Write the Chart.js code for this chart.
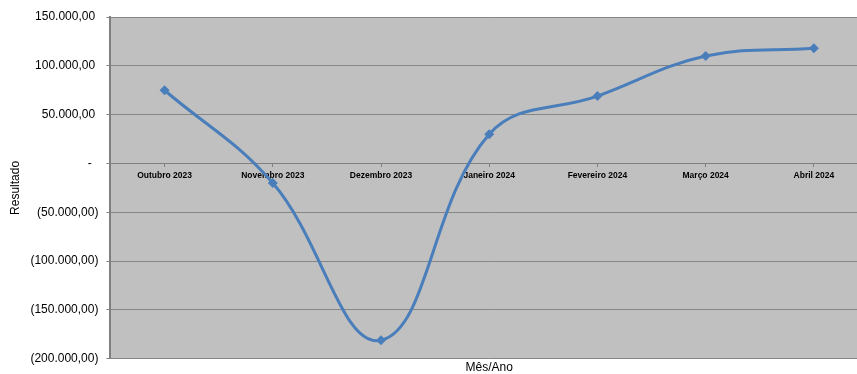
<!DOCTYPE html>
<html>
<head>
<meta charset="utf-8">
<script src="https://cdn.jsdelivr.net/npm/chart.js@4/dist/chart.umd.min.js"></script>
<style>
  html, body { margin: 0; padding: 0; background: #ffffff; overflow: hidden; }
  body { width: 857px; height: 374px; }
  #wrap { width: 873px; height: 374px; position: relative; }
</style>
</head>
<body>
<div id="wrap"><canvas id="c"></canvas></div>
<script>
// Monthly result, October 2023 to April 2024
const months = ['Outubro 2023', 'Novembro 2023', 'Dezembro 2023', 'Janeiro 2024',
                'Fevereiro 2024', 'Março 2024', 'Abril 2024'];
const resultado = [75000, -20000, -181000, 30000, 69000, 110000, 118000];
const yTicks = [150000, 100000, 50000, 0, -50000, -100000, -150000, -200000];

// Accounting-style number: 150.000,00 / (50.000,00) / -
function fmt(v) {
  if (v === 0) return '-  ';
  const s = Math.abs(v).toLocaleString('de-DE', { minimumFractionDigits: 2, maximumFractionDigits: 2 });
  return v < 0 ? '(' + s + ')' : s + ' ';
}

// Grey plot background
const plotBg = {
  id: 'plotBg',
  beforeDraw(chart) {
    const { ctx, chartArea: a } = chart;
    ctx.save();
    ctx.fillStyle = '#c0c0c0';
    ctx.fillRect(a.left, a.top, a.right - a.left, a.bottom - a.top);
    ctx.restore();
  }
};

const font = 'Liberation Sans, Arial, sans-serif';

new Chart(document.getElementById('c'), {
  type: 'line',
  data: {
    labels: months,
    datasets: [{
      label: 'Resultado',
      data: resultado,
      borderColor: '#4a7ebb',
      backgroundColor: '#4a7ebb',
      borderWidth: 3,
      tension: 0.4,
      pointStyle: 'rectRot',
      pointRadius: 5,
      pointHoverRadius: 5,
      pointBorderWidth: 0,
      clip: false
    }]
  },
  options: {
    responsive: true,
    maintainAspectRatio: false,
    animation: false,
    events: [],
    layout: { padding: { top: 17, right: 0, left: 8, bottom: 0 } },
    plugins: { legend: { display: false }, tooltip: { enabled: false } },
    scales: {
      x: {
        type: 'category',
        position: { y: 0 },
        offset: true,
        grid: { drawOnChartArea: false, drawTicks: true, tickLength: 3, color: '#808080' },
        border: { display: true, color: '#808080', width: 1 },
        ticks: {
          color: '#000000',
          font: { family: font, size: 8.5, weight: 'bold' },
          maxRotation: 0,
          autoSkip: false,
          padding: 4
        }
      },
      x2: {
        type: 'category',
        position: 'bottom',
        offset: true,
        grid: { display: false, drawTicks: false },
        border: { display: false },
        ticks: { display: false },
        title: {
          display: true,
          text: 'Mês/Ano',
          color: '#000000',
          font: { family: font, size: 12 },
          padding: { top: 2, bottom: -2 }
        }
      },
      y: {
        min: -200000,
        max: 150000,
        afterBuildTicks(scale) { scale.ticks = yTicks.map(v => ({ value: v })); },
        grid: { color: '#868686', lineWidth: 1, tickLength: 4, drawTicks: true },
        border: { display: true, color: '#808080', width: 2 },
        ticks: {
          color: '#000000',
          font: { family: font, size: 12 },
          padding: 8,
          callback: v => fmt(v)
        },
        title: {
          display: true,
          text: 'Resultado',
          color: '#000000',
          font: { family: font, size: 12 },
          padding: { top: 0, bottom: 0 }
        }
      }
    }
  },
  plugins: [plotBg]
});
</script>
</body>
</html>
